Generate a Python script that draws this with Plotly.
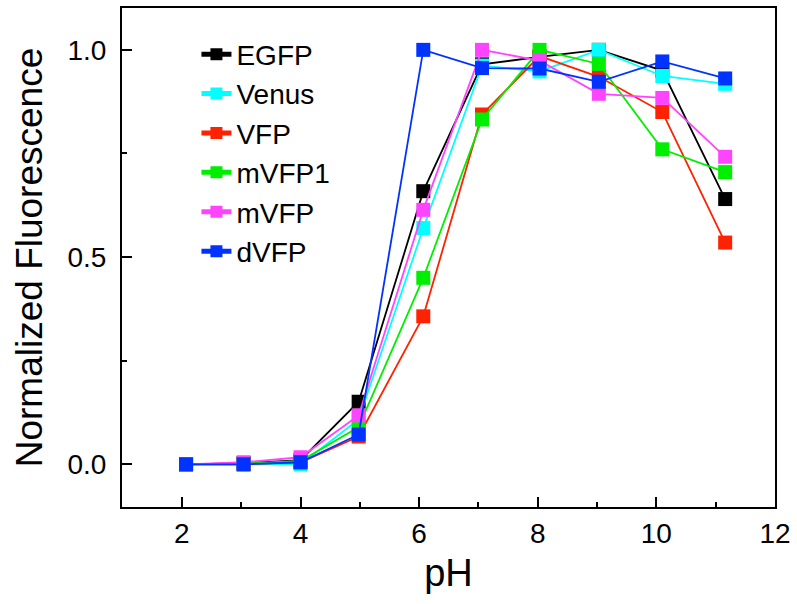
import plotly.graph_objects as go

ph = [2.07, 3.04, 4.0, 4.98, 6.07, 7.06, 8.03, 9.03, 10.1, 11.16]

egfp  = [0.0, 0.003, 0.01, 0.151, 0.659, 0.965, 0.983, 1.0, 0.95, 0.640]
venus = [0.0, 0.0, 0.0, 0.108, 0.570, 0.962, 0.948, 1.0, 0.937, 0.918]
vfp   = [0.0, 0.0, 0.005, 0.067, 0.357, 0.844, 0.985, 0.935, 0.850, 0.535]
mvfp1 = [0.0, 0.002, 0.008, 0.090, 0.450, 0.832, 1.0, 0.966, 0.760, 0.705]
mvfp  = [0.0, 0.005, 0.017, 0.118, 0.614, 1.0, 0.974, 0.894, 0.884, 0.742]
dvfp  = [0.0, 0.0, 0.005, 0.072, 1.0, 0.956, 0.955, 0.923, 0.972, 0.931]

names = ["EGFP", "Venus", "VFP", "mVFP1", "mVFP", "dVFP"]
series = [egfp, venus, vfp, mvfp1, mvfp, dvfp]
colors = ["#000000", "#00FFFF", "#FF2200", "#00EE00", "#FF44FF", "#0033FF"]

fig = go.Figure()
for n, s, c in zip(names, series, colors):
    fig.add_trace(go.Scatter(
        x=ph, y=s, name=n, mode="lines+markers",
        line=dict(color=c, width=1.8),
        marker=dict(symbol="square", size=14, color=c, line=dict(width=0)),
    ))

fam = "Liberation Sans, Arial, sans-serif"
axis_font = dict(family=fam, size=28, color="black")
fig.update_layout(
    width=797, height=604,
    margin=dict(l=122, r=20, t=6, b=97),
    plot_bgcolor="white", paper_bgcolor="white",
    font=dict(family=fam, color="black"),
    showlegend=True,
    legend=dict(x=0.114, y=0.957, xanchor="left", yanchor="top",
                font=dict(size=28, family=fam),
                bgcolor="rgba(0,0,0,0)", itemsizing="constant"),
    xaxis=dict(range=[0.99, 12], tickmode="array", tickvals=[2, 4, 6, 8, 10, 12],
               ticks="inside", ticklen=10, tickwidth=2, tickcolor="black",
               showline=True, linecolor="black", linewidth=2, mirror=True,
               showgrid=False, zeroline=False, tickfont=axis_font,
               minor=dict(tickvals=[1, 3, 5, 7, 9, 11], ticks="inside", ticklen=5,
                          tickwidth=2, tickcolor="black"),
               title=dict(text="pH", font=dict(size=38), standoff=12)),
    yaxis=dict(range=[-0.103, 1.101], tickmode="array", tickvals=[0, 0.5, 1.0],
               ticktext=["0.0", "0.5", "1.0"],
               ticks="inside", ticklen=10, tickwidth=2, tickcolor="black",
               ticklabelstandoff=8,
               showline=True, linecolor="black", linewidth=2, mirror=True,
               showgrid=False, zeroline=False, tickfont=axis_font,
               minor=dict(tickvals=[0.25, 0.75], ticks="inside", ticklen=5,
                          tickwidth=2, tickcolor="black"),
               title=dict(text="Normalized Fluorescence", font=dict(size=37), standoff=14)),
)

fig.write_html("out.html", config={"displayModeBar": False},
               post_script="document.body.style.margin='0';")
